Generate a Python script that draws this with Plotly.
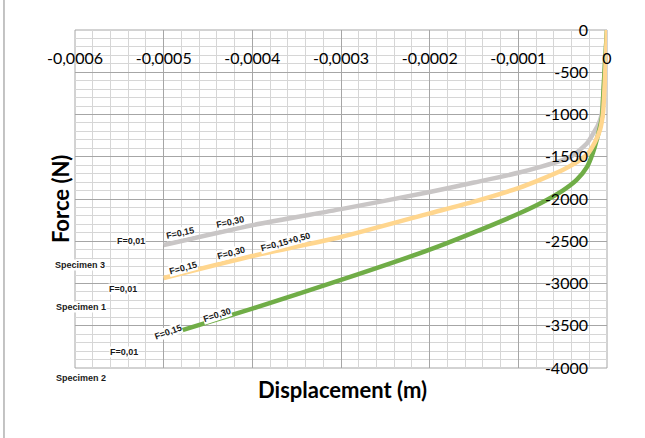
import plotly.graph_objects as go

# Force-displacement curves for the three specimens
spec3_disp = [-0.0005, -0.0004, -0.0003, -0.0002, -0.00015, -0.0001, -0.000075,
              -0.00005, -0.000038, -0.0000225, -0.0000158, -0.0000101, -0.000006,
              -0.000003, 0]
spec3_force = [-2545, -2310, -2120, -1917, -1805, -1690, -1620,
               -1540, -1480, -1340, -1230, -1124, -1000,
               -550, 0]

spec1_disp = [-0.0005, -0.0004, -0.0003, -0.0002, -0.00015, -0.0001, -0.000075,
              -0.00005, -0.000035, -0.0000225, -0.0000135, -0.0000079, -0.0000045,
              -0.000002, 0]
spec1_force = [-2935, -2675, -2450, -2170, -2030, -1870, -1770,
               -1657, -1570, -1475, -1325, -1183, -982,
               -500, 0]

spec2_disp = [-0.0005, -0.0004, -0.0003, -0.0002, -0.00015, -0.0001, -0.000075,
              -0.00005, -0.000034, -0.0000225, -0.0000158, -0.0000101, -0.0000056,
              -0.0000045, -0.0000025, 0]
spec2_force = [-3620, -3297, -2958, -2600, -2395, -2175, -2050,
               -1900, -1770, -1620, -1450, -1240, -1030,
               -828, -430, 0]

# Axis ticks
x_tickvals = [-0.0006, -0.0005, -0.0004, -0.0003, -0.0002, -0.0001, 0]
x_ticktext = ["-0,0006", "-0,0005", "-0,0004", "-0,0003", "-0,0002", "-0,0001", "0"]
y_tickvals = [0, -500, -1000, -1500, -2000, -2500, -3000, -3500, -4000]
y_ticktext = ["0", "-500", "-1000", "-1500", "-2000", "-2500", "-3000", "-3500", "-4000"]

# Text labels placed along the curves: (text, x, y, angle)
curve_labels = [
    ("F=0,01", -0.0005366, -2497, 0),
    ("Specimen 3", -0.000594, -2781, 0),
    ("F=0,01", -0.0005457, -3065, 0),
    ("Specimen 1", -0.000593, -3278, 0),
    ("F=0,01", -0.0005445, -3811, 0),
    ("Specimen 2", -0.000593, -4118, 0),
    ("F=0,15", -0.0004814, -2402, -12),
    ("F=0,30", -0.000425, -2272, -12),
    ("F=0,15", -0.000478, -2817, -15),
    ("F=0,30", -0.000424, -2639, -15),
    ("F=0,15+0,50", -0.000363, -2509, -15),
    ("F=0,15", -0.000495, -3574, -20),
    ("F=0,30", -0.00044, -3373, -18),
]

X_RANGE = [-0.0006, 0]
Y_RANGE = [-4000, 0]

MAJOR = "#a6a6a6"
MINOR = "#d6d6d6"
MAIN_FONT = "Lato, Liberation Sans, sans-serif"
TICK_FONT = dict(family=MAIN_FONT, size=16, color="#000000")
SMALL_FONT = "Liberation Sans, Arial, sans-serif"


def to_paper(v, rng):
    return (v - rng[0]) / (rng[1] - rng[0])


fig = go.Figure()

for disp, force, color in [
    (spec3_disp, spec3_force, "#c9c6c6"),
    (spec2_disp, spec2_force, "#70ad47"),
    (spec1_disp, spec1_force, "#ffd68e"),
]:
    fig.add_trace(go.Scatter(
        x=disp, y=force, mode="lines",
        line=dict(color=color, width=4.5, shape="spline", smoothing=0.6),
        showlegend=False, hoverinfo="skip",
    ))

for text, x, y, ang in curve_labels:
    fig.add_annotation(
        x=to_paper(x, X_RANGE), y=to_paper(y, Y_RANGE),
        xref="paper", yref="paper",
        xanchor="center", yanchor="middle",
        text="<b>%s</b>" % text,
        showarrow=False, textangle=ang, bgcolor="#ffffff", borderpad=0,
        font=dict(family=SMALL_FONT, size=9, color="#1a1a1a"),
    )

fig.add_annotation(
    x=-0.028, y=0.5, xref="paper", yref="paper", text="<b>Force (N)</b>",
    xanchor="center", yanchor="middle", textangle=-90, showarrow=False,
    font=dict(family=MAIN_FONT, size=22, color="#000000"),
)
fig.add_annotation(
    x=0.502, y=-0.065, xref="paper", yref="paper", text="<b>Displacement (m)</b>",
    xanchor="center", yanchor="middle", showarrow=False,
    font=dict(family=MAIN_FONT, size=22, color="#000000"),
)

# Plot-area frame
fig.add_shape(type="rect", xref="paper", yref="paper", x0=0, x1=1, y0=0, y1=1,
              line=dict(color=MAJOR, width=1), layer="below")

# Outer chart frame edge on the left
fig.add_shape(type="line", xref="paper", yref="paper",
              x0=-0.1335, x1=-0.1335, y0=-0.3, y1=1.2,
              line=dict(color="#b0b0b0", width=1.5))

fig.update_layout(
    width=645, height=438,
    margin=dict(l=75, r=38, t=30, b=70),
    paper_bgcolor="#ffffff", plot_bgcolor="#ffffff",
    xaxis=dict(
        range=X_RANGE, side="bottom", anchor="free", position=1,
        automargin=False,
        tickmode="array", tickvals=x_tickvals, ticktext=x_ticktext,
        ticklabelstandoff=17, tickfont=TICK_FONT, ticks="",
        showgrid=True, gridcolor=MAJOR, gridwidth=1,
        zeroline=False, showline=False,
        minor=dict(tickmode="linear", tick0=0, dtick=0.00002,
                   showgrid=True, gridcolor=MINOR, gridwidth=1),
    ),
    yaxis=dict(
        range=Y_RANGE, side="left", anchor="free", position=1,
        automargin=False,
        tickmode="array", tickvals=y_tickvals, ticktext=y_ticktext,
        ticklabelstandoff=19, tickfont=TICK_FONT, ticks="",
        showgrid=True, gridcolor=MAJOR, gridwidth=1,
        zeroline=False, showline=False,
        minor=dict(tickmode="linear", tick0=0, dtick=100,
                   showgrid=True, gridcolor=MINOR, gridwidth=1),
    ),
)

fig.write_html("out.html")
